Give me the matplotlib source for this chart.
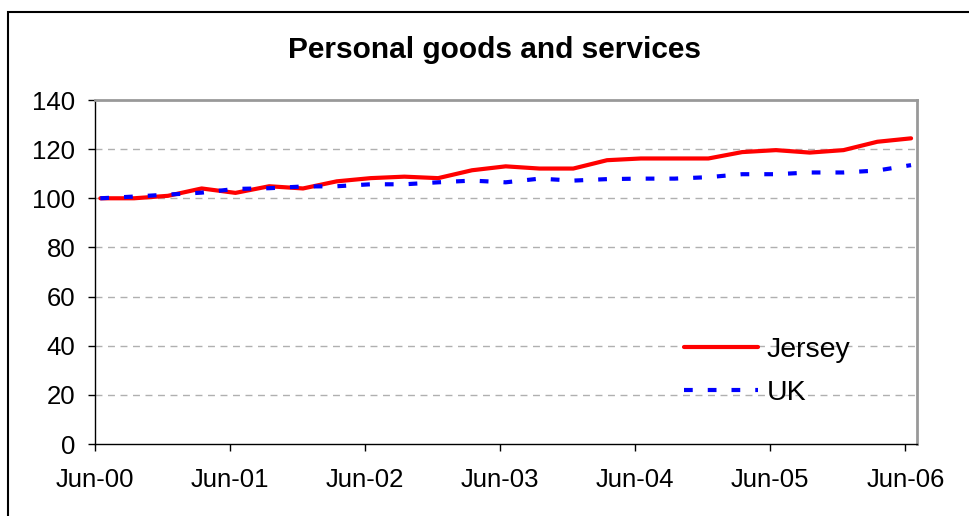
import numpy as np
import matplotlib
matplotlib.use('Agg')
import matplotlib.pyplot as plt
from matplotlib.patches import Rectangle

plt.rcParams['font.family'] = ['Liberation Sans', 'DejaVu Sans']

# quarterly index, Jun-00 to Jun-06
jersey = [100, 100, 101, 104, 102.2, 104.9, 104, 106.9, 108.2, 108.8, 108.2, 111.4, 113,
          112.1, 112.1, 115.5, 116.2, 116.2, 116.2, 118.8, 119.6, 118.6, 119.6, 123, 124.4]
uk = [100, 100.7, 101.5, 102.3, 103.8, 104.1, 104.8, 104.9, 105.7, 105.7, 106.5, 107.2, 106.5,
      108, 107.2, 107.8, 108, 108, 108.6, 109.8, 109.8, 110.5, 110.5, 111.3, 113.5]
tick_labels = ['Jun-00', 'Jun-01', 'Jun-02', 'Jun-03', 'Jun-04', 'Jun-05', 'Jun-06']

# months since Jun-00, points sit in the middle of each month slot
months = np.arange(len(jersey)) * 3 + 0.5

fig = plt.figure(figsize=(9.7, 5.16), dpi=100)
fig.patches.append(Rectangle((8 / 970, -0.1), 1.1, (516 - 12) / 516 + 0.1,
                             transform=fig.transFigure, fill=False,
                             edgecolor='black', linewidth=1.5))

ax = fig.add_axes([94.7 / 970, 72 / 516, 822 / 970, 344 / 516])

ax.plot(months, jersey, color='#ff0000', lw=3, solid_capstyle='round', label='Jersey', zorder=3)
ax.plot(months, uk, color='#0000ff', lw=3, dashes=(2.1, 3.6), dash_capstyle='butt',
        label='UK', zorder=3)

ax.set_xlim(0, 73)
ax.set_ylim(0, 140)
ax.set_xticks(np.arange(0, 73, 12))
ax.set_xticklabels(tick_labels)
ax.set_yticks(np.arange(0, 141, 20))
ax.tick_params(axis='both', labelsize=18.5, direction='out', length=5, width=1, color='black')
ax.tick_params(axis='x', pad=12)
ax.tick_params(axis='y', pad=9)

for y in range(20, 140, 20):
    ax.axhline(y, color='#b0b0b0', lw=1, dashes=(5, 4), zorder=1)

for s in ['left', 'bottom']:
    ax.spines[s].set_color('black')
    ax.spines[s].set_linewidth(1)
for s in ['top', 'right']:
    ax.spines[s].set_color('#999999')
    ax.spines[s].set_linewidth(2)

fig.text(495 / 970, 1 - 50 / 516, 'Personal goods and services', ha='center', va='center',
         fontsize=21.5, fontweight='bold')

leg = ax.legend(loc='upper left', bbox_to_anchor=(0.699, 0.352), frameon=False, fontsize=20.5,
                borderpad=0, handlelength=2.63, handletextpad=0.3, labelspacing=0.58)

fig.savefig('out.png', dpi=100)
